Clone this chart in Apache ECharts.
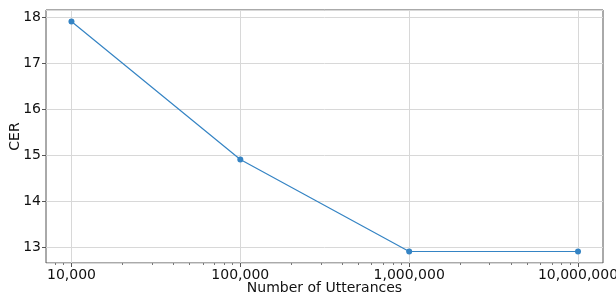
<!DOCTYPE html>
<html>
<head>
<meta charset="utf-8">
<script src="https://cdn.jsdelivr.net/npm/echarts@6/dist/echarts.min.js"></script>
<style>
  html, body { margin: 0; padding: 0; background: #fff; }
  #chart { width: 616px; height: 295px; }
</style>
</head>
<body>
<div id="chart"></div>
<script>
// number of utterances vs CER
var utterances = [10000, 100000, 1000000, 10000000];
var cer = [17.9, 14.9, 12.9, 12.9];
var majorTicks = [10000, 100000, 1000000, 10000000];
var minorTicks = [8000, 9000,
	20000, 30000, 40000, 50000, 60000, 70000, 80000, 90000,
	200000, 300000, 400000, 500000, 600000, 700000, 800000, 900000,
	2000000, 3000000, 4000000, 5000000, 6000000, 7000000, 8000000, 9000000];

var chart = echarts.init(document.getElementById('chart'));
var font = 'DejaVu Sans';
var xMin = 7066, xMax = 14060000;

option = {
	animation : false,
	grid : {
		left : 46,
		right : 13,
		top : 10,
		bottom : 32,
		outerBoundsMode : 'none',
		containLabel : false,
		show : true,
		borderColor : '#555',
		borderWidth : 1
	},
	xAxis : [ {
		type : 'log',
		logBase : 10,
		min : xMin,
		max : xMax,
		name : 'Number of Utterances',
		nameLocation : 'middle',
		nameGap : 18,
		nameMoveOverlap : false,
		nameTextStyle : { fontFamily : font, fontSize : 14, color : '#111' },
		axisLine : { show : false },
		axisTick : { show : true, customValues : majorTicks, length : 4, lineStyle : { color : '#555' } },
		axisLabel : {
			customValues : majorTicks,
			fontFamily : font, fontSize : 14, color : '#111', margin : 5,
			formatter : function (v) { return Math.round(v).toLocaleString('en-US'); }
		},
		splitLine : { show : true, lineStyle : { color : '#d8d8d8', width : 1 } }
	}, {
		type : 'log',
		logBase : 10,
		min : xMin,
		max : xMax,
		position : 'bottom',
		axisLine : { show : false },
		axisTick : { show : true, customValues : minorTicks, length : 2, lineStyle : { color : '#777' } },
		axisLabel : { show : false },
		splitLine : { show : false }
	} ],
	yAxis : {
		type : 'value',
		min : 12.65,
		max : 18.15,
		splitNumber : 5,
		name : 'CER',
		nameLocation : 'middle',
		nameGap : 24,
		nameMoveOverlap : false,
		nameTextStyle : { fontFamily : font, fontSize : 14, color : '#111' },
		axisLine : { show : false },
		axisTick : { show : true, length : 4, lineStyle : { color : '#555' } },
		axisLabel : {
			fontFamily : font, fontSize : 14, color : '#111', margin : 5,
			showMinLabel : false, showMaxLabel : false
		},
		splitLine : { show : true, lineStyle : { color : '#d8d8d8', width : 1 } }
	},
	series : [ {
		type : 'line',
		xAxisIndex : 0,
		data : utterances.map(function (u, i) { return [u, cer[i]]; }),
		symbol : 'circle',
		symbolSize : 6,
		lineStyle : { color : '#3584c4', width : 1.2 },
		itemStyle : { color : '#3584c4' }
	} ]
};

chart.setOption(option);
</script>
</body>
</html>
